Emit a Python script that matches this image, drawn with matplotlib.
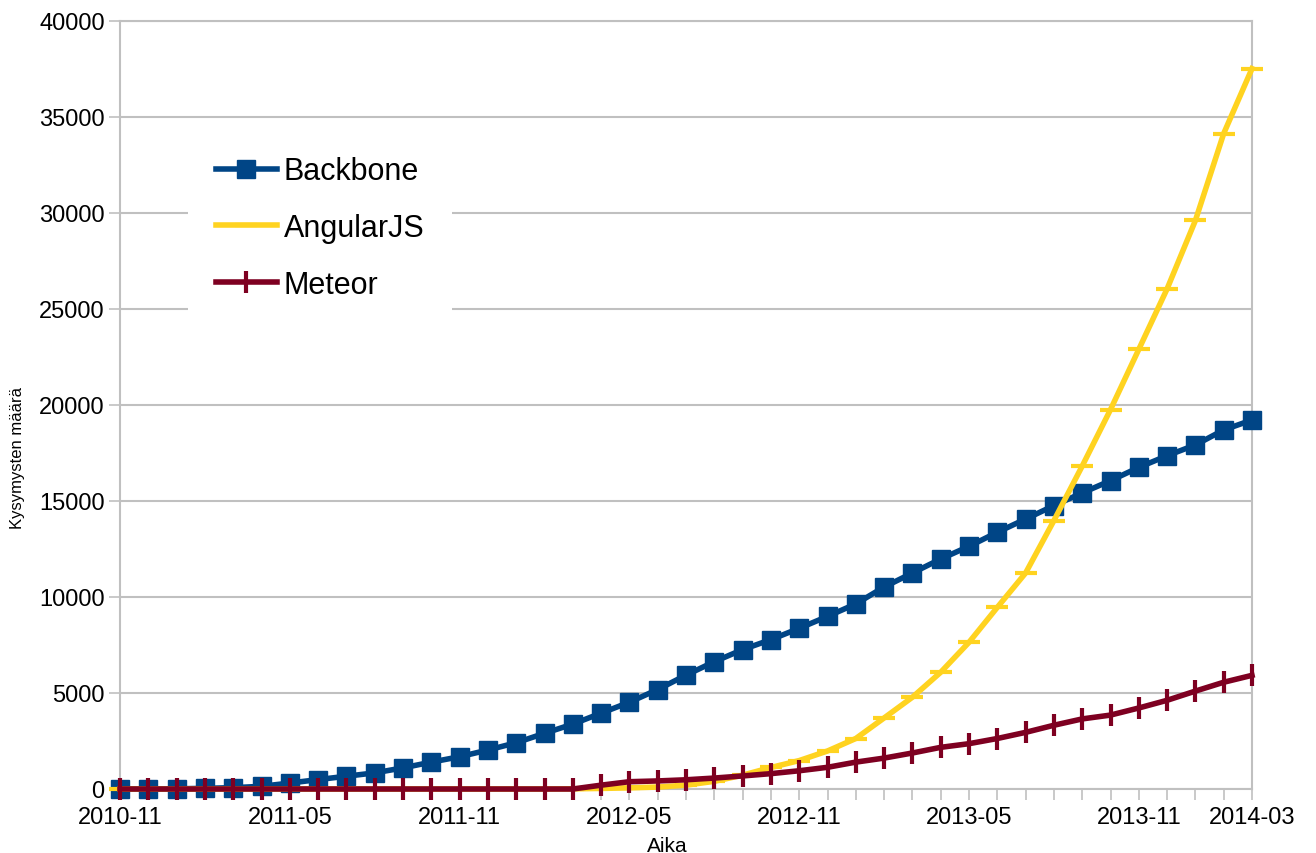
import numpy as np
import matplotlib.pyplot as plt

# kuukausittaiset kysymysmäärät 2010-11 ... 2014-03
months = ["2010-11", "2011-05", "2011-11", "2012-05", "2012-11", "2013-05", "2013-11", "2014-03"]
month_pos = [0, 6, 12, 18, 24, 30, 36, 40]

backbone = [0, 0, 10, 35, 70, 140, 310, 490, 665, 840,
            1100, 1400, 1680, 2030, 2410, 2900, 3380, 3950, 4520, 5180,
            5930, 6630, 7260, 7780, 8370, 8990, 9640, 10520, 11250, 11980,
            12640, 13370, 14060, 14760, 15420, 16060, 16750, 17360, 17920, 18700,
            19220]
angular = [0, 0, 0, 0, 0, 0, 0, 0, 0, 0,
           0, 0, 0, 0, 0, 0, 10, 30, 60, 100,
           200, 400, 720, 1120, 1480, 1980, 2630, 3700, 4780, 6080,
           7640, 9460, 11250, 13980, 16820, 19760, 22900, 26050, 29610, 34140,
           37520]
meteor = [0, 0, 0, 0, 0, 0, 0, 0, 0, 0,
          0, 0, 0, 0, 0, 0, 0, 200, 380, 420,
          480, 570, 680, 800, 950, 1130, 1400, 1610, 1875, 2170,
          2360, 2630, 2950, 3320, 3650, 3850, 4220, 4620, 5100, 5560,
          5920]

x = np.arange(len(backbone))

plt.rcParams['font.family'] = ['Liberation Sans', 'DejaVu Sans']

fig = plt.figure(figsize=(13.16, 8.54), dpi=100)
ax = fig.add_axes([120/1316, 64/854, 1132/1316, 768/854])

grid_col = '#c0c0c0'
ax.plot(x, backbone, color='#004586', lw=4, marker='s', ms=13, label='Backbone',
        clip_on=False, zorder=3)
ax.plot(x, angular, color='#ffd320', lw=4, marker='_', ms=16, mew=3, label='AngularJS',
        clip_on=False, zorder=4)
ax.plot(x, meteor, color='#7e0021', lw=4, marker='|', ms=16, mew=3, label='Meteor',
        clip_on=False, zorder=5)

ax.set_xlim(0, 40)
ax.set_ylim(0, 40000)
ax.set_yticks(np.arange(0, 40001, 5000))
ax.set_xticks(month_pos)
ax.set_xticklabels(months)
ax.set_xticks(x, minor=True)
ax.tick_params(axis='both', which='both', color=grid_col, width=1.2, length=8, labelsize=17)
ax.tick_params(axis='x', which='major', pad=4)
ax.tick_params(axis='y', pad=3)
ax.yaxis.grid(True, color=grid_col, lw=1.5)
ax.set_axisbelow(True)
for s in ax.spines.values():
    s.set_color(grid_col)
    s.set_linewidth(1.5)

fig.text(18/1316, 1 - 458/854, 'Kysymysten määrä', rotation=90, fontsize=12,
         ha='center', va='center')
fig.text(667/1316, 1 - 852/854, 'Aika', fontsize=15, ha='center', va='baseline')

leg = ax.legend(loc='upper left', bbox_to_anchor=(188/1316, 1 - 130/854),
                bbox_transform=fig.transFigure, fontsize=22, frameon=True,
                fancybox=False, edgecolor='none', facecolor='white', framealpha=1,
                handlelength=2.0, handletextpad=0.23, labelspacing=0.87,
                borderpad=0.9, borderaxespad=0)

fig.savefig('out.png', dpi=100)
